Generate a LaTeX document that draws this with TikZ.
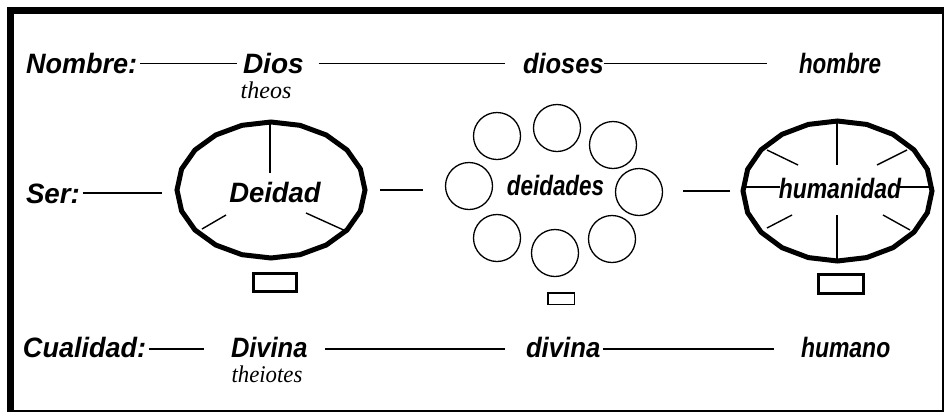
\documentclass[tikz,border=0pt]{standalone}
\usepackage{fontspec}
\setsansfont{Liberation Sans}
\newfontfamily\serifit{Liberation Serif}
\usepackage{graphicx}
\usetikzlibrary{calc,shapes.geometric}
\newcommand\hsc[2]{\scalebox{#1}[1]{#2}}
\begin{document}
\begin{tikzpicture}[x=1pt,y=-1pt,
  lab/.style={inner sep=0pt, outer sep=0pt, font=\fontsize{28}{30}\selectfont\sffamily\bfseries\itshape, anchor=base west},
  clab/.style={lab, anchor=base},
  sub/.style={inner sep=0pt, outer sep=0pt, font=\fontsize{24}{26}\selectfont\serifit\itshape, anchor=base},
  rule/.style={line width=1.5pt},
  spoke/.style={line width=1.4pt},
  rim/.style={line width=5pt, line join=miter},
  circ/.style={circle, draw, line width=1.3pt, minimum size=47pt, inner sep=0pt},
  shell/.style={ellipse, inner sep=0pt, outer sep=0pt},
  tag/.style={rectangle, draw, inner sep=0pt, line width=3.2pt}
]
\useasboundingbox (0,0) rectangle (945,413);
% frame
\fill[black] (7,7) rectangle (944,14);
\fill[black] (7,7) rectangle (14,412);
\fill[black] (941.5,7) rectangle (944,412);
\fill[black] (7,409.7) rectangle (944,412);

% row 1
\node[lab] (nombre) at (26,73) {\hsc{0.966}{Nombre:}};
\node[lab] (dios) at (243,73) {\hsc{1.0}{Dios}};
\node[lab] (dioses) at (523,73) {\hsc{0.91}{dioses}};
\node[lab] (hombre) at (799,73) {\hsc{0.80}{hombre}};
\node[sub] (theos) at (266,98) {theos};
\draw[rule, shorten <=3pt, shorten >=6pt] ([yshift=9.5pt]nombre.base east) -- ([yshift=9.5pt]dios.base west);
\draw[rule, shorten <=15pt, shorten >=18pt] ([yshift=9.5pt]dios.base east) -- ([yshift=9.5pt]dioses.base west);
\draw[rule, shorten <=0pt, shorten >=32pt] ([yshift=9.5pt]dioses.base east) -- ([yshift=9.5pt]hombre.base west);

% row 3
\node[lab] (cualidad) at (23,357) {\hsc{0.966}{Cualidad:}};
\node[lab] (Divina) at (231,357) {\hsc{0.91}{Divina}};
\node[lab] (divina) at (526,357) {\hsc{0.92}{divina}};
\node[lab] (humano) at (801,357) {\hsc{0.82}{humano}};
\node[sub] (theiotes) at (267,382) {\hsc{0.95}{theiotes}};
\draw[rule, shorten <=3pt, shorten >=27pt] ([yshift=8pt]cualidad.base east) -- ([yshift=8pt]Divina.base west);
\draw[rule, shorten <=18pt, shorten >=21pt] ([yshift=8pt]Divina.base east) -- ([yshift=8pt]divina.base west);
\draw[rule, shorten <=3pt, shorten >=27pt] ([yshift=8pt]divina.base east) -- ([yshift=8pt]humano.base west);

% row 2
\node[lab] (ser) at (26,203) {\hsc{0.99}{Ser:}};
\node[shell, minimum width=188pt, minimum height=136pt] (deidadE) at (271,190) {};
\node[shell, minimum width=189pt, minimum height=140pt] (humE) at (837.5,191) {};
\node[clab] (deidad) at (275,202) {\hsc{0.98}{Deidad}};
\node[clab] (humanidad) at (840,198) {\hsc{0.82}{humanidad}};
\node[clab] (deidades) at (555.5,195) {\hsc{0.80}{deidades}};

\draw[rim] plot[samples=21, domain=90:450] ({271+94*cos(\x)},{190+68*sin(\x)}) -- cycle;
\draw[rim] plot[samples=21, domain=90:450] ({837.5+94.5*cos(\x)},{191+70*sin(\x)}) -- cycle;

% spokes left
\draw[spoke] (270,122) -- (270,173);
\draw[spoke] (202,229) -- (226,215);
\draw[spoke] (306,213) -- (348,232);
% spokes right
\draw[spoke] (837,122) -- (837,165);
\draw[spoke] (837,215) -- (837,262);
\draw[spoke] (743,187) -- (780,187);
\draw[spoke] (897,187) -- (932,187);
\draw[spoke] (767,150) -- (798,165);
\draw[spoke] (877,165) -- (907,150);
\draw[spoke] (767,228) -- (792,215);
\draw[spoke] (883,215) -- (910,230);

% circles
\node[circ] (c1) at (497,136) {};
\node[circ] (c2) at (557,128) {};
\node[circ] (c3) at (613,145) {};
\node[circ] (c4) at (469,186) {};
\node[circ] (c5) at (639,192) {};
\node[circ] (c6) at (497,238) {};
\node[circ] (c7) at (555,253) {};
\node[circ] (c8) at (612,239) {};

% boxes
\node[tag, minimum width=43pt, minimum height=18pt] (b1) at (275,282.5) {};
\node[tag, minimum width=45pt, minimum height=19pt] (b3) at (841,284) {};
\node[tag, line width=1.5pt, minimum width=26.5pt, minimum height=11.5pt] (b2) at (561,298.5) {};

% row 2 connectors
\draw[rule, shorten <=3pt] ([yshift=10pt]ser.base east) coordinate (s1) -- ($(s1 -| deidadE.west)+(-15,0)$);
\draw[rule, shorten <=15pt, shorten >=22pt] (deidadE.east) -- (deidadE.east -| c4.west);
\draw[rule, shorten <=20pt, shorten >=13pt] (c5.east |- humE.west) -- (humE.west);
\end{tikzpicture}
\end{document}
